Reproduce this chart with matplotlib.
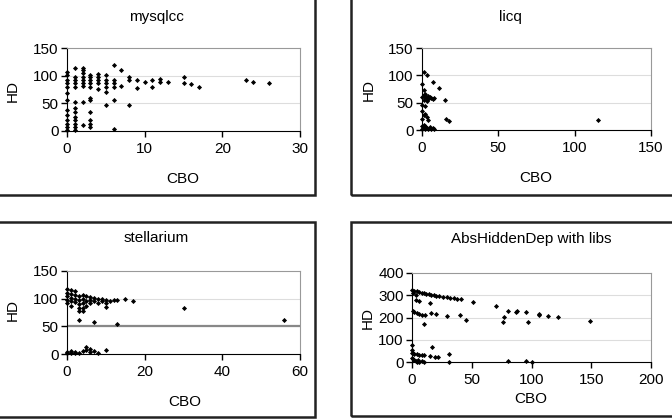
import matplotlib
matplotlib.use("Agg")
import matplotlib.pyplot as plt
from matplotlib.patches import Rectangle

plt.rcParams['font.family'] = ['Liberation Sans', 'DejaVu Sans']
plt.rcParams['font.size'] = 11

W, H = 672, 420

# --- data (CBO, HD) ---
mysql_cbo = [0]*13 + [1]*13 + [2]*9 + [3]*11 + [4]*5 + [5]*6 + [6]*6 + [7]*2 + [8]*3 \
    + [9]*2 + [10] + [11]*2 + [12]*2 + [13] + [15]*2 + [16] + [17] + [23] + [24] + [26]
mysql_hd = [107, 101, 92, 86, 79, 68, 56, 38, 29, 19, 12, 7, 2,
            113, 98, 92, 86, 79, 53, 41, 35, 25, 19, 13, 7, 2,
            113, 110, 104, 98, 92, 86, 81, 53, 10,
            101, 98, 92, 86, 80, 59, 56, 35, 19, 13, 7,
            103, 97, 92, 87, 76,
            101, 93, 87, 80, 71, 47,
            120, 92, 86, 79, 56, 4,
            110, 81,
            98, 92, 47,
            92, 77,
            89,
            92, 79,
            94, 89,
            89,
            97, 86,
            85, 79, 92, 89, 86]

licq_cbo = [1, 3, 7, 11, 1, 1, 2, 2, 3, 4, 5, 6, 7, 8, 4, 3, 1, 15, 2, 1, 3, 4, 2,
            16, 18, 115, 0, 1, 2, 3, 4, 5, 6, 7, 8, 0, 1, 2, 0, 0, 0, 0, 0]
licq_hd = [107, 101, 87, 77, 73, 64, 66, 60, 58, 57, 60, 58, 56, 59, 62, 53, 55, 55,
           43, 27, 24, 18, 30, 20, 16, 18, 2, 4, 1, 3, 2, 5, 1, 3, 2, 8, 10, 7,
           35, 45, 85, 60, 20]

stel_cbo = [0, 0, 0, 0, 0, 1, 1, 1, 1, 1, 2, 2, 2, 2, 3, 3, 3, 3, 3, 4, 4, 4, 4, 4,
            5, 5, 5, 6, 6, 6, 7, 7, 8, 8, 9, 9, 10, 10, 10, 11, 12, 13, 15, 17, 30, 56,
            3, 7, 13,
            0, 0, 1, 2, 3, 4, 5, 5, 6, 6, 7, 8, 10, 1, 2]
stel_hd = [117, 110, 104, 98, 92, 115, 108, 101, 95, 86, 114, 106, 100, 94, 104, 97,
           90, 83, 78, 106, 99, 92, 84, 78, 104, 96, 86, 103, 97, 92, 101, 95, 99, 92,
           100, 96, 98, 92, 85, 96, 98, 97, 99, 96, 84, 62,
           61, 57, 54,
           3, 1, 2, 1, 2, 5, 12, 7, 9, 3, 6, 2, 7, 5, 4]

abs_cbo = [0, 2, 4, 6, 8, 10, 12, 14, 16, 18, 20, 23, 26, 29, 32, 35, 38, 41, 51, 70,
           3, 6, 15, 1, 3,
           1, 2, 4, 6, 8, 11, 16, 20, 29, 40, 45, 10, 76, 77, 80, 87, 88, 95, 97, 106,
           106, 114, 122, 149,
           0, 1, 2, 4, 6, 8, 10, 15, 17, 19, 22, 31, 31, 0, 1, 2, 3, 4, 5, 6, 8, 10,
           0, 80, 95, 100, 0]
abs_hd = [325, 320, 318, 315, 312, 309, 307, 305, 303, 300, 297, 295, 293, 291, 289,
          286, 284, 282, 268, 253,
          280, 275, 264, 310, 300,
          230, 226, 218, 214, 212, 211, 219, 214, 207, 211, 189, 171, 180, 204, 229,
          223, 231, 226, 181, 211, 215, 206, 203, 183,
          40, 39, 36, 34, 32, 30, 30, 28, 69, 24, 22, 34, 2, 20, 15, 10, 5, 2, 8, 1,
          3, 1, 75, 6, 5, 1, 55]

panels = [
    # title, x, y, xmax, xstep, ymax, ystep, axes box px (l, t, r, b), title px, cbo px, hd px
    ("mysqlcc", mysql_cbo, mysql_hd, 30, 10, 150, 50, (67, 48, 300, 131), (156, 17), (183, 179), (13, 91)),
    ("licq", licq_cbo, licq_hd, 150, 50, 150, 50, (422, 48, 651, 130), (510, 17), (536, 178), (369, 90)),
    ("stellarium", stel_cbo, stel_hd, 60, 20, 150, 50, (67, 271, 300, 354), (156, 238), (185, 402), (13, 310)),
    ("AbsHiddenDep with libs", abs_cbo, abs_hd, 200, 50, 400, 100, (412, 273, 651, 362), (531, 239), (531, 399), (368, 318)),
]

fig = plt.figure(figsize=(W / 100, H / 100), dpi=100)

# outer chart boxes (partly cut off by the image edge)
boxes = [(-10, -10, 315, 195), (351, -10, 690, 195), (-10, 222, 315, 417), (351, 222, 690, 416)]
for l, t, r, b in boxes:
    fig.patches.append(Rectangle((l / W, 1 - b / H), (r - l) / W, (b - t) / H,
                                 transform=fig.transFigure, fill=False,
                                 edgecolor='#222222', linewidth=1.8))

for title, xs, ys, xmax, xstep, ymax, ystep, box, tpos, xlpos, ylpos in panels:
    l, t, r, b = box
    ax = fig.add_axes([l / W, 1 - b / H, (r - l) / W, (b - t) / H])
    ax.plot(xs, ys, 'D', color='black', markersize=2.6, markeredgewidth=0, clip_on=False)
    ax.set_xlim(0, xmax)
    ax.set_ylim(0, ymax)
    ax.set_xticks(range(0, xmax + 1, xstep))
    ax.set_yticks(range(0, ymax + 1, ystep))
    for yv in range(ystep, ymax, ystep):
        ax.axhline(yv, color='#dddddd', linewidth=0.8, zorder=0)
    if title == "stellarium":
        ax.axhline(50, color='#888888', linewidth=1.6, zorder=1)
    ax.spines['top'].set_color('#999999')
    ax.spines['right'].set_color('#999999')
    ax.spines['left'].set_color('black')
    ax.spines['bottom'].set_color('black')
    ax.tick_params(direction='out', length=4, width=1, pad=2, labelsize=11)
    ax.tick_params(axis='x', pad=4)
    w, h = r - l, b - t
    ax.set_xlabel("CBO", fontsize=11)
    ax.xaxis.set_label_coords((xlpos[0] - l) / w, (b - xlpos[1]) / h)
    ax.xaxis.label.set_va('center')
    ax.set_ylabel("HD", fontsize=11)
    ax.yaxis.set_label_coords((ylpos[0] - l) / w, (b - ylpos[1]) / h)
    ax.yaxis.label.set_va('center')
    fig.text(tpos[0] / W, 1 - tpos[1] / H, title, ha='center', va='center', fontsize=11)

fig.savefig("out.png", dpi=100)
